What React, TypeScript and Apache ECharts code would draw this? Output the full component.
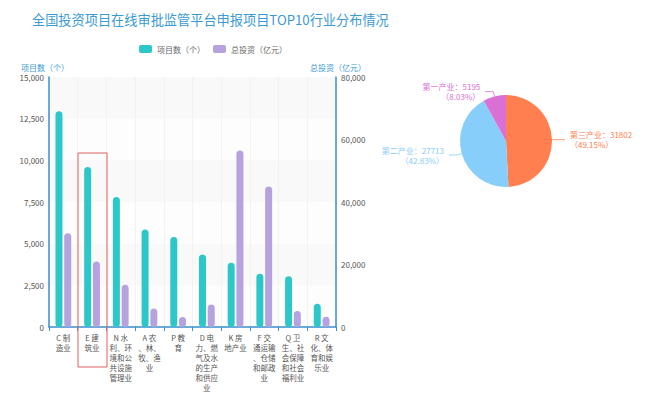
import React, { useEffect, useRef } from "react";
import * as echarts from "echarts";

const categories = [
  "C 制\n造业",
  "E 建\n筑业",
  "N 水\n利、环\n境和公\n共设施\n管理业",
  "A 农\n、林、\n牧、渔\n业",
  "P 教\n育",
  "D 电\n力、燃\n气及水\n的生产\n和供应\n业",
  "K 房\n地产业",
  "F 交\n通运输\n、仓储\n和邮政\n业",
  "Q 卫\n生、社\n会保障\n和社会\n福利业",
  "R 文\n化、体\n育和娱\n乐业",
];
const projectCounts = [12950, 9600, 7800, 5850, 5400, 4350, 3850, 3200, 3050, 1400];
const totalInvest = [30000, 21000, 13500, 5900, 3200, 7200, 56500, 45000, 5100, 3300];
const pieNames = ["第三产业", "第二产业", "第一产业"];
const pieValues = [31802, 27713, 5195];
const pieColors = ["#ff7f50", "#87cefa", "#da70d6"];

const FONT = '"Noto Sans CJK SC", "Noto Sans", sans-serif';
const fmt = (v: number) => v.toLocaleString("en-US");
const pieSum = pieValues.reduce((a, b) => a + b, 0);

export default function App() {
  const ref = useRef<HTMLDivElement>(null);
  useEffect(() => {
    const chart = echarts.init(ref.current!, undefined, { renderer: "svg" });
    chart.setOption({
      animation: false,
      backgroundColor: "#ffffff",
      textStyle: { fontFamily: FONT },
      title: {
        text: "全国投资项目在线审批监管平台申报项目TOP10行业分布情况",
        left: 27,
        top: 8,
        textStyle: { fontFamily: FONT, fontSize: 13.2, fontWeight: "normal", color: "#3a9ad4" },
      },
      legend: {
        left: 134,
        top: 40,
        itemWidth: 13,
        itemHeight: 8,
        itemGap: 8,
        icon: "roundRect",
        textStyle: { fontFamily: FONT, fontSize: 8, color: "#666" },
        data: ["项目数（个）", "总投资（亿元）"],
      },
      grid: { left: 49, right: 312, top: 77, bottom: 66 },
      xAxis: {
        type: "category",
        data: categories,
        axisLine: { lineStyle: { color: "#3a8fd0", width: 1.5 } },
        axisTick: { show: true, length: 4, lineStyle: { color: "#3a8fd0" } },
        splitLine: { show: true, lineStyle: { color: "#f2f2f2" } },
        axisLabel: {
          interval: 0,
          fontFamily: FONT,
          fontSize: 7.5,
          lineHeight: 10,
          color: "#555",
          margin: 5,
        },
      },
      yAxis: [
        {
          type: "value",
          name: "项目数（个）",
          nameGap: 6,
          nameTextStyle: { fontFamily: FONT, fontSize: 8, color: "#3a9ad4", align: "right", padding: [0, -20, 0, 0] },
          min: 0,
          max: 15000,
          interval: 2500,
          axisLine: { show: true, lineStyle: { color: "#3a8fd0", width: 1.5 } },
          axisTick: { show: false },
          splitLine: { show: false },
          splitArea: {
            show: true,
            areaStyle: { color: ["rgba(250,250,250,0.3)", "rgba(238,238,238,0.35)"] },
          },
          axisLabel: { fontFamily: FONT, fontSize: 8, color: "#555", formatter: fmt, margin: 5 },
        },
        {
          type: "value",
          name: "总投资（亿元）",
          nameGap: 6,
          nameTextStyle: { fontFamily: FONT, fontSize: 8, color: "#3a9ad4", align: "left", padding: [0, 0, 0, -26] },
          min: 0,
          max: 80000,
          interval: 20000,
          axisLine: { show: true, lineStyle: { color: "#3a8fd0", width: 1.5 } },
          axisTick: { show: false },
          splitLine: { show: false },
          axisLabel: { fontFamily: FONT, fontSize: 8, color: "#555", formatter: fmt, margin: 5 },
        },
      ],
      series: [
        {
          name: "项目数（个）",
          type: "bar",
          yAxisIndex: 0,
          data: projectCounts,
          barWidth: 7,
          barGap: "25%",
          itemStyle: { color: "#2ec7c9", borderRadius: 3.5 },
        },
        {
          name: "总投资（亿元）",
          type: "bar",
          yAxisIndex: 1,
          data: totalInvest,
          barWidth: 7,
          barGap: "25%",
          itemStyle: { color: "#b6a2de", borderRadius: 3.5 },
        },
        {
          type: "pie",
          center: [506, 141],
          radius: 46,
          startAngle: 90,
          clockwise: true,
          data: pieNames.map((n, i) => ({
            name: n,
            value: pieValues[i],
            itemStyle: { color: pieColors[i] },
            label: { color: pieColors[i] },
            labelLine: { lineStyle: { color: pieColors[i] } },
          })),
          label: {
            show: true,
            formatter: (p: any) =>
              `${p.name}：${p.value}\n（${((p.value / pieSum) * 100).toFixed(2)}%）`,
            fontFamily: FONT,
            fontSize: 8,
            lineHeight: 10,
            overflow: "none",
          },
          labelLine: { length: 5, length2: 8, lineStyle: { width: 0.8 } },
        },
      ],
      graphic: [
        {
          type: "rect",
          shape: { x: 78, y: 153, width: 29, height: 214 },
          style: { fill: "none", stroke: "#e06060", lineWidth: 1 },
          z: 100,
        },
      ],
    });
    return () => chart.dispose();
  }, []);
  return (
    <div
      ref={ref}
      style={{ position: "fixed", left: 0, top: 0, width: 648, height: 393 }}
    />
  );
}
